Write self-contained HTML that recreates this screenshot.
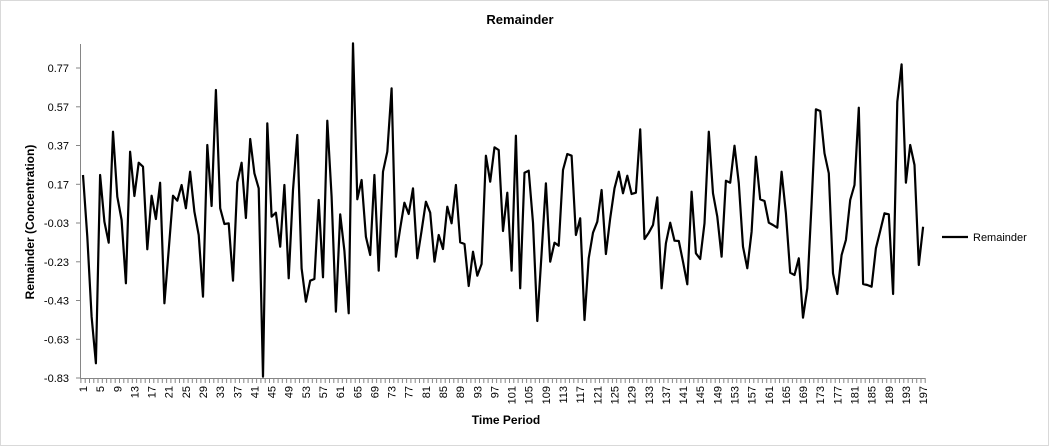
<!DOCTYPE html>
<html><head><meta charset="utf-8"><style>
html,body{margin:0;padding:0;background:#fff}
svg{display:block;font-family:"Liberation Sans",Arial,sans-serif}
</style></head><body>
<svg id="s" width="1049" height="446" viewBox="0 0 1049 446" xmlns="http://www.w3.org/2000/svg">
<rect x="0.5" y="0.5" width="1048" height="445" fill="#fff" stroke="#d9d9d9"/>
<text x="520" y="24" font-size="13" font-weight="bold" text-anchor="middle">Remainder</text>
<text transform="translate(34,222) rotate(-90)" font-size="12" font-weight="bold" text-anchor="middle">Remainder (Concentration)</text>
<text x="506" y="424" font-size="12" font-weight="bold" text-anchor="middle">Time Period</text>
<line x1="942" y1="237" x2="968" y2="237" stroke="#000" stroke-width="2.2"/>
<text x="973" y="241" font-size="11">Remainder</text>
<g id="ax"></g>
<polyline id="pl" fill="none" stroke="#000" stroke-width="2.2" stroke-linejoin="round"/>
</svg>
<script>
var z=[405,590,830,970,405,545,608,275,470,540,730,335,468,368,380,628,467,537,428,790,630,467,482,435,505,395,515,585,770,315,498,150,505,552,550,722,427,368,534,297,400,445,1010,250,530,518,620,435,715,450,285,685,785,722,717,480,712,242,470,815,523,632,820,10,478,420,590,645,405,692,395,335,145,650,565,488,522,445,655,572,485,518,665,585,627,500,550,435,607,612,738,635,707,672,347,425,322,330,573,458,692,287,745,398,392,548,843,640,430,665,608,617,390,342,347,585,535,840,655,578,545,450,642,535,445,395,460,407,462,458,268,597,578,555,472,745,610,548,602,603,665,733,455,640,657,550,275,460,530,650,422,428,317,430,620,685,575,350,478,483,548,555,563,395,520,698,705,655,833,745,490,208,213,340,400,700,762,645,600,480,435,203,732,735,740,625,573,520,523,762,185,73,428,315,375,675,560];
var ns="http://www.w3.org/2000/svg",pts=[];
for(var i=0;i<z.length;i++){var y=40+z[i]/3;if(y>378)y=378;pts.push((83+i*4.286).toFixed(1)+","+y.toFixed(1));}
document.getElementById("pl").setAttribute("points",pts.join(" "));
var g=document.getElementById("ax"),h="";
h+='<line x1="80.5" y1="44" x2="80.5" y2="378" stroke="#868686"/>';
h+='<line x1="80" y1="378.5" x2="925" y2="378.5" stroke="#868686"/>';
var labs=["0.77","0.57","0.37","0.17","-0.03","-0.23","-0.43","-0.63","-0.83"];
for(var k=0;k<9;k++){var yy=68+k*38.75;h+='<line x1="76" y1="'+yy.toFixed(1)+'" x2="80" y2="'+yy.toFixed(1)+'" stroke="#868686"/>';
h+='<text x="69" y="'+(yy+4).toFixed(1)+'" font-size="11" text-anchor="end">'+labs[k]+'</text>';}
for(var i=0;i<=197;i++){var x=80.9+i*4.286;h+='<line x1="'+x.toFixed(1)+'" y1="378" x2="'+x.toFixed(1)+'" y2="383" stroke="#868686"/>';}
for(var n=1;n<=197;n+=4){var x=83+(n-1)*4.286;h+='<text transform="translate('+(x+4).toFixed(1)+',386) rotate(-90)" font-size="11" text-anchor="end">'+n+'</text>';}
g.innerHTML=h;
</script>
</body></html>
